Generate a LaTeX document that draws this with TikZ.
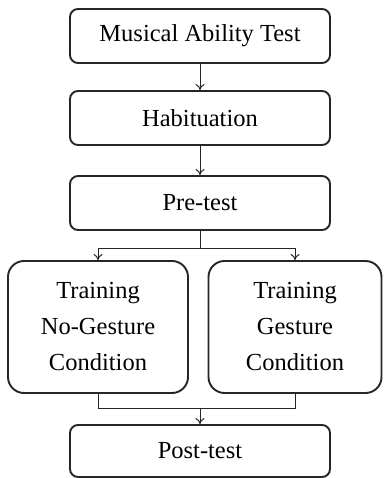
\documentclass[tikz,border=0pt]{standalone}
\usepackage{fontspec}
\newfontfamily\tms{LiberationSerif-Regular.ttf}
\usetikzlibrary{arrows.meta}
\begin{document}
\begin{tikzpicture}[x=1pt,y=-1pt,
  box/.style={draw=black!85, line width=1.9pt, rounded corners=8pt, inner sep=0pt,
    font=\tms\fontsize{24.5}{36}\selectfont, align=center, anchor=center},
  bigbox/.style={box, rounded corners=16pt},
  arr/.style={draw=black!85, line width=1pt, -{To[length=6pt,width=9pt]}},
  ln/.style={draw=black!85, line width=1pt}]
\useasboundingbox (0,0) rectangle (383,478);
\node[box, minimum width=260pt, minimum height=54pt] (m) at (200,36) {Musical Ability Test};
\node[box, minimum width=260pt, minimum height=54pt] (h) at (200,118) {Habituation};
\node[box, minimum width=260pt, minimum height=54pt] (p) at (200,203) {Pre-test};
\node[bigbox, minimum width=180pt, minimum height=132pt] (l) at (98,327) {Training\\No-Gesture\\Condition};
\node[bigbox, minimum width=173pt, minimum height=132pt] (r) at (295,327) {Training\\Gesture\\Condition};
\node[box, minimum width=260pt, minimum height=52pt] (q) at (200,451) {Post-test};
\coordinate (j1) at (200,248);
\coordinate (j2) at (200,408);
\draw[arr] (m) -- (h);
\draw[arr] (h) -- (p);
\draw[ln] (p) -- (j1);
\draw[arr] (j1) -| (l);
\draw[arr] (j1) -| (r);
\draw[ln] (l) |- (j2);
\draw[ln] (r) |- (j2);
\draw[arr] (j2) -- (q);
\end{tikzpicture}
\end{document}
